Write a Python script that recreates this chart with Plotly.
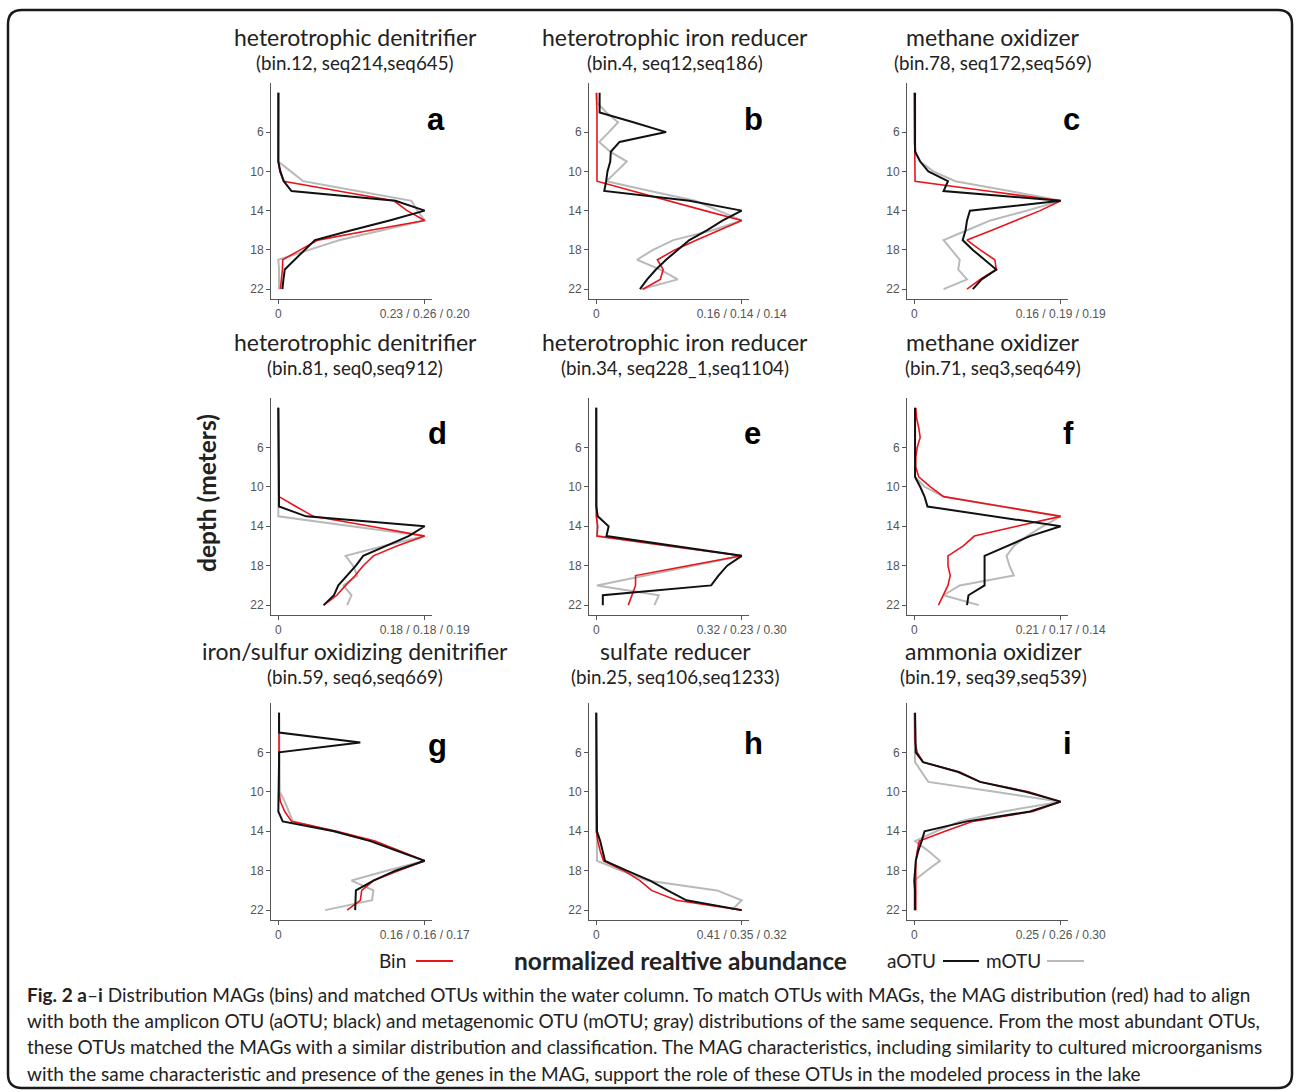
import plotly.graph_objects as go

W, H = 1296, 1092

DEPTH = list(range(2, 23))
DEPTH_TICKS = [6, 10, 14, 18, 22]

TITLES = ["heterotrophic denitrifier", "heterotrophic iron reducer", "methane oxidizer",
          "heterotrophic denitrifier", "heterotrophic iron reducer", "methane oxidizer",
          "iron/sulfur oxidizing denitrifier", "sulfate reducer", "ammonia oxidizer"]
SUBTITLES = ["(bin.12, seq214,seq645)", "(bin.4, seq12,seq186)", "(bin.78, seq172,seq569)",
             "(bin.81, seq0,seq912)", "(bin.34, seq228_1,seq1104)", "(bin.71, seq3,seq649)",
             "(bin.59, seq6,seq669)", "(bin.25, seq106,seq1233)", "(bin.19, seq39,seq539)"]
MAX_LABELS = ["0.23 / 0.26 / 0.20", "0.16 / 0.14 / 0.14", "0.16 / 0.19 / 0.19",
              "0.18 / 0.18 / 0.19", "0.32 / 0.23 / 0.30", "0.21 / 0.17 / 0.14",
              "0.16 / 0.16 / 0.17", "0.41 / 0.35 / 0.32", "0.25 / 0.26 / 0.30"]
LETTERS = ["a", "b", "c", "d", "e", "f", "g", "h", "i"]

# normalized abundance per depth (2..22 m); Bin = red, aOTU = black, mOTU = gray
RED_A = [0, 0, 0, 0, 0, 0, 0, 0, 0.01, 0.037, 0.41, 0.79, 0.88, 1.0, 0.63, 0.27, 0.15, 0.03, 0.028, 0.02, 0.014]
BLACK_A = [0, 0, 0, 0, 0, 0, 0, 0, 0.014, 0.037, 0.09, 0.80, 1.0, 0.76, 0.50, 0.25, 0.18, 0.11, 0.044, 0.035, 0.028]
GRAY_A = [0.005, 0.005, 0.005, 0.005, 0.005, 0.005, 0.005, 0, 0.085, 0.17, 0.54, 0.91, 0.95, 1.0, 0.71, 0.42, 0.21, 0.0, 0.005, 0.005, 0.005]

RED_B = [0.0, 0.005, 0.005, 0.005, 0.005, 0.005, 0.005, 0.005, 0.005, 0.005, 0.25, 0.49, 0.745, 1.0, 0.84, 0.69, 0.54, 0.42, 0.46, 0.44, 0.32]
BLACK_B = [0.023, 0.023, 0.023, 0.255, 0.48, 0.16, 0.10, 0.096, 0.077, 0.068, 0.055, 0.64, 1.0, 0.87, 0.76, 0.64, 0.56, 0.48, 0.41, 0.35, 0.30]
GRAY_B = [0.005, 0.005, 0.07, 0.15, 0.087, 0.02, 0.096, 0.21, 0.14, 0.07, 0.37, 0.68, 0.84, 1.0, 0.80, 0.53, 0.39, 0.28, 0.44, 0.56, 0.31]

RED_C = [0, 0, 0, 0, 0, 0, 0.005, 0.005, 0.005, 0.005, 0.50, 1.0, 0.86, 0.70, 0.53, 0.36, 0.45, 0.55, 0.56, 0.45, 0.36]
BLACK_C = [0.005, 0.005, 0.005, 0.005, 0.005, 0.005, 0.005, 0.04, 0.096, 0.23, 0.20, 1.0, 0.38, 0.36, 0.35, 0.33, 0.40, 0.48, 0.56, 0.46, 0.40]
GRAY_C = [0, 0, 0, 0, 0, 0, 0.01, 0.04, 0.13, 0.28, 0.65, 1.0, 0.77, 0.52, 0.36, 0.20, 0.255, 0.31, 0.30, 0.36, 0.20]

RED_D = [0, 0, 0, 0, 0, 0, 0, 0, 0, 0.005, 0.12, 0.24, 0.63, 1.0, 0.81, 0.65, 0.58, 0.525, 0.46, 0.40, 0.31]
BLACK_D = [0, 0, 0, 0, 0, 0, 0, 0, 0, 0, 0.005, 0.19, 1.0, 0.89, 0.73, 0.58, 0.53, 0.47, 0.41, 0.38, 0.31]
GRAY_D = [0, 0, 0, 0, 0, 0, 0, 0, 0, 0, 0, 0, 0.5, 1.0, 0.72, 0.46, 0.51, 0.54, 0.445, 0.50, 0.47]

RED_E = [0, 0, 0, 0, 0, 0, 0, 0, 0, 0, 0, 0, 0.01, 0.005, 0.5, 1.0, 0.63, 0.27, 0.27, 0.245, 0.22]
BLACK_E = [0, 0, 0, 0, 0, 0, 0, 0, 0, 0, 0, 0.01, 0.085, 0.07, 0.53, 1.0, 0.90, 0.84, 0.79, 0.045, 0.045]
GRAY_E = [0, 0, 0, 0, 0, 0, 0, 0, 0, 0, 0, 0, 0, 0.005, 0.5, 1.0, 0.665, 0.335, 0.005, 0.43, 0.40]

RED_F = [0.01, 0.015, 0.03, 0.04, 0.02, 0.01, 0.01, 0.03, 0.11, 0.20, 0.60, 1.0, 0.70, 0.41, 0.335, 0.23, 0.23, 0.245, 0.23, 0.20, 0.165]
BLACK_F = [0.005, 0.005, 0.005, 0.005, 0.005, 0.005, 0.005, 0.005, 0.04, 0.07, 0.09, 0.55, 1.0, 0.79, 0.63, 0.48, 0.48, 0.48, 0.48, 0.37, 0.36]
GRAY_F = [0.005, 0.005, 0.005, 0.005, 0.005, 0.005, 0.005, 0.005, 0.07, 0.20, 0.60, 1.0, 0.88, 0.77, 0.68, 0.63, 0.65, 0.68, 0.31, 0.20, 0.44]

RED_G = [0.005, 0.005, 0.005, 0.005, 0.005, 0.005, 0.005, 0.005, 0.005, 0.014, 0.044, 0.09, 0.40, 0.66, 0.83, 1.0, 0.82, 0.65, 0.57, 0.56, 0.47]
BLACK_G = [0.005, 0.005, 0.005, 0.56, 0.005, 0.005, 0.005, 0.005, 0.0, 0.0, 0.0, 0.03, 0.38, 0.63, 0.81, 1.0, 0.80, 0.65, 0.53, 0.53, 0.525]
GRAY_G = [0.005, 0.005, 0.005, 0.005, 0.005, 0.005, 0.005, 0.005, 0.01, 0.044, 0.07, 0.10, 0.38, 0.63, 0.81, 1.0, 0.74, 0.50, 0.65, 0.64, 0.32]

RED_H = [0, 0, 0, 0, 0, 0, 0, 0, 0, 0, 0, 0, 0, 0.011, 0.027, 0.05, 0.19, 0.30, 0.38, 0.55, 1.0]
BLACK_H = [0, 0, 0, 0, 0, 0, 0, 0, 0, 0, 0, 0, 0.005, 0.027, 0.043, 0.06, 0.21, 0.37, 0.49, 0.62, 1.0]
GRAY_H = [0, 0, 0, 0, 0, 0, 0, 0, 0, 0, 0, 0, 0, 0, 0, 0.005, 0.17, 0.35, 0.83, 1.0, 0.93]

RED_I = [0.005, 0.005, 0.005, 0.005, 0.02, 0.06, 0.31, 0.45, 0.78, 1.0, 0.81, 0.40, 0.21, 0.034, 0.02, 0.01, 0.01, 0.01, 0.01, 0.01, 0.01]
BLACK_I = [0.005, 0.005, 0.005, 0.005, 0.01, 0.06, 0.30, 0.45, 0.76, 1.0, 0.79, 0.36, 0.07, 0.05, 0.027, 0.01, 0.005, 0.0, 0.005, 0.005, 0.005]
GRAY_I = [0, 0, 0, 0, 0, 0.005, 0.05, 0.096, 0.55, 1.0, 0.61, 0.31, 0.15, 0.005, 0.096, 0.175, 0.084, 0.0, 0.0, 0.0, 0.0]

PANELS = [(RED_A, BLACK_A, GRAY_A), (RED_B, BLACK_B, GRAY_B), (RED_C, BLACK_C, GRAY_C),
          (RED_D, BLACK_D, GRAY_D), (RED_E, BLACK_E, GRAY_E), (RED_F, BLACK_F, GRAY_F),
          (RED_G, BLACK_G, GRAY_G), (RED_H, BLACK_H, GRAY_H), (RED_I, BLACK_I, GRAY_I)]

RED, BLACK, GRAY = "#e8141b", "#111111", "#b9b9b9"
AXC = "#555555"
TITLE_FONT = "Lato, 'Open Sans', sans-serif"
TICK_FONT = "'Liberation Sans', Arial, sans-serif"

# pixel layout
COLS = [(271, 432), (589, 749), (907, 1068)]
ROWS = [(83, 299), (398, 615), (703, 920)]
TITLE_X = [355, 675, 993]
TITLE_Y = [(37, 62), (342, 367), (651, 676)]
LETTER_POS = [(436, 119), (753, 119), (1071, 119), (437, 434), (752, 434), (1068, 434),
              (437, 745), (753, 743), (1067, 743)]


def px(x):
    return x / W


def py(y):
    return 1 - y / H


fig = go.Figure()
annotations = []
shapes = []

for k, (red, black, gray) in enumerate(PANELS):
    r, c = divmod(k, 3)
    sfx = "" if k == 0 else str(k + 1)
    xa, ya = "x" + sfx, "y" + sfx
    for vals, col, wd in ((gray, GRAY, 2), (red, RED, 1.6), (black, BLACK, 2)):
        fig.add_trace(go.Scatter(x=vals, y=DEPTH, mode="lines", xaxis=xa, yaxis=ya,
                                 line=dict(color=col, width=wd), showlegend=False,
                                 hoverinfo="skip"))
    x0, x1 = COLS[c]
    y0, y1 = ROWS[r]
    common = dict(showline=True, linecolor=AXC, linewidth=1, ticks="outside", ticklen=4,
                  tickcolor=AXC, tickwidth=1, showgrid=False, zeroline=False,
                  tickfont=dict(family=TICK_FONT, size=12, color=AXC))
    fig.layout["xaxis" + sfx] = dict(domain=[px(x0), px(x1)], anchor=ya, range=[-0.05, 1.05],
                                     tickvals=[0, 1], ticktext=["0", MAX_LABELS[k]], **common)
    fig.layout["yaxis" + sfx] = dict(domain=[py(y1), py(y0)], anchor=xa, range=[23, 1],
                                     tickvals=DEPTH_TICKS, **common)
    annotations.append(dict(x=px(TITLE_X[c]), y=py(TITLE_Y[r][0]), xref="paper", yref="paper",
                            text=TITLES[k], showarrow=False, xanchor="center", yanchor="middle",
                            font=dict(family=TITLE_FONT, size=23, color="#222222")))
    annotations.append(dict(x=px(TITLE_X[c]), y=py(TITLE_Y[r][1]), xref="paper", yref="paper",
                            text=SUBTITLES[k], showarrow=False, xanchor="center", yanchor="middle",
                            font=dict(family=TITLE_FONT, size=18.8, color="#222222")))
    lx, ly = LETTER_POS[k]
    annotations.append(dict(x=px(lx), y=py(ly), xref="paper", yref="paper",
                            text="<b>%s</b>" % LETTERS[k], showarrow=False, xanchor="center",
                            yanchor="middle", font=dict(family=TICK_FONT, size=31, color="#000000")))

# y axis title
annotations.append(dict(x=px(207), y=py(493), xref="paper", yref="paper", text="<b>depth (meters)</b>",
                        showarrow=False, textangle=-90, xanchor="center", yanchor="middle",
                        font=dict(family=TITLE_FONT, size=24.5, color="#222222")))
# bottom row: legend + x title
annotations.append(dict(x=px(680), y=py(960), xref="paper", yref="paper",
                        text="<b>normalized realtive abundance</b>", showarrow=False,
                        xanchor="center", yanchor="middle",
                        font=dict(family=TITLE_FONT, size=24.5, color="#222222")))
for label, xr, col, l0, l1 in (("Bin", 408, RED, 416, 453), ("aOTU", 938, BLACK, 943, 979),
                               ("mOTU", 1043, GRAY, 1047, 1084)):
    annotations.append(dict(x=px(xr), y=py(960), xref="paper", yref="paper", text=label,
                            showarrow=False, xanchor="right", yanchor="middle",
                            font=dict(family=TITLE_FONT, size=19, color="#222222")))
    shapes.append(dict(type="line", xref="paper", yref="paper", x0=px(l0), x1=px(l1),
                       y0=py(961), y1=py(961), line=dict(color=col, width=2)))

CAPTION = [
    "<b>Fig. 2 a</b>–<b>i</b> Distribution MAGs (bins) and matched OTUs within the water column. To match OTUs with MAGs, the MAG distribution (red) had to align",
    "with both the amplicon OTU (aOTU; black) and metagenomic OTU (mOTU; gray) distributions of the same sequence. From the most abundant OTUs,",
    "these OTUs matched the MAGs with a similar distribution and classification. The MAG characteristics, including similarity to cultured microorganisms",
    "with the same characteristic and presence of the genes in the MAG, support the role of these OTUs in the modeled process in the lake",
]
for i, line in enumerate(CAPTION):
    annotations.append(dict(x=px(25), y=py(994 + i * 26.4), xref="paper", yref="paper", text=line,
                            showarrow=False, xanchor="left", yanchor="middle",
                            font=dict(family="Lato, sans-serif", size=19, color="#222222")))

# rounded frame
r_ = 14
L, T, R, B = 8, 10, 1292, 1088
path = ("M {a},{b} L {c},{b} Q {R},{b} {R},{d} L {R},{e} Q {R},{Bp} {c},{Bp} L {a},{Bp} "
        "Q {L},{Bp} {L},{e} L {L},{d} Q {L},{b} {a},{b} Z").format(
    a=px(L + r_), b=py(T), c=px(R - r_), d=py(T + r_), e=py(B - r_), R=px(R), L=px(L), Bp=py(B))
shapes.append(dict(type="path", xref="paper", yref="paper", path=path,
                   line=dict(color="#1a1a1a", width=2.5)))

fig.update_layout(width=W, height=H, autosize=False,
                  margin=dict(l=0, r=0, t=0, b=0, pad=0, autoexpand=False),
                  paper_bgcolor="white", plot_bgcolor="white", annotations=annotations,
                  shapes=shapes, showlegend=False)

POST = ("var s=document.createElement('style');"
        "s.textContent='html,body{margin:0;padding:0;width:1296px;overflow:hidden;}';"
        "document.head.appendChild(s);")

fig.write_html("out.html", config={"responsive": False, "displayModeBar": False},
               default_width="1296px", default_height="1092px", post_script=POST)
